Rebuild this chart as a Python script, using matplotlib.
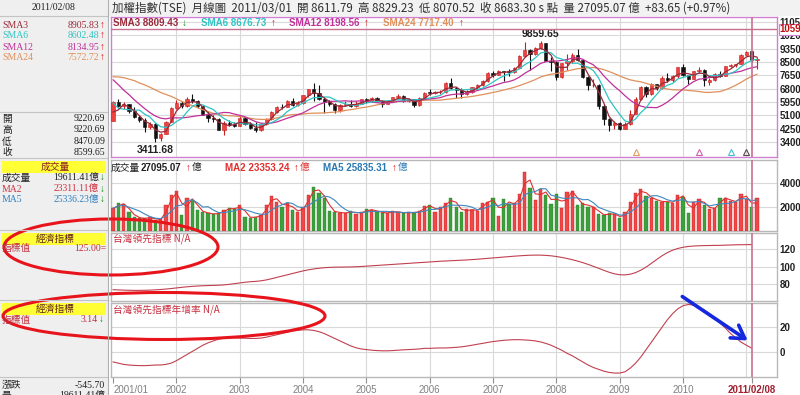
import numpy as np
import pandas as pd
import matplotlib
matplotlib.use('Agg')
import matplotlib.pyplot as plt
from matplotlib.patches import Ellipse, Rectangle
from matplotlib.transforms import blended_transform_factory

# ---- data: TAIEX monthly bars 2001/01 .. 2011/03 ----
open_ = [
    4740, 5936, 5674, 5797, 5382, 5020, 4800, 4350, 4550, 3636, 3903, 4700,
    5551, 5871, 5700, 6167, 6017, 5675, 5153, 4941, 4875, 4191, 4580, 4533,
    4452, 4945, 4550, 4321, 4148, 4556, 4872, 5318, 5650, 5611, 6045, 5771,
    5890, 6375, 6750, 6522, 6117, 5977, 5839, 5420, 5765, 5845, 5705, 5844,
    6139, 5994, 6207, 6006, 5818, 6011, 6241, 6312, 6033, 6119, 5764, 6203,
    6548, 6532, 6561, 6613, 7171, 6847, 6704, 6455, 6611, 6883, 7021, 7311,
    7823, 7699, 7901, 7884, 7875, 8145, 8883, 9287, 8982, 9411, 9711, 8586,
    8506, 7521, 8412, 8572, 8919, 8619, 7524, 7024, 7046, 5719, 4870, 4460,
    4591, 4248, 4557, 5210, 6153, 6890, 6432, 7077, 6826, 7509, 7340, 7582,
    8188, 7640, 7436, 7920, 8004, 7250, 7329, 7760, 7616, 8237, 8287, 8372,
    8972, 9220.69, 8611.79]
high = [
    6000, 6150, 5950, 5850, 5600, 5150, 4950, 4700, 4620, 3950, 4750, 5600,
    6050, 6000, 6300, 6484, 6100, 5700, 5400, 5100, 4950, 4750, 4800, 4700,
    5141, 5000, 4650, 4700, 4600, 4950, 5400, 5700, 5800, 6100, 6182, 6000,
    6400, 6800, 7135, 7034, 6250, 6050, 5900, 5800, 6000, 6050, 6000, 6150,
    6200, 6250, 6250, 6050, 6100, 6300, 6450, 6400, 6200, 6150, 6250, 6600,
    6800, 6650, 6700, 7250, 7474, 6900, 6850, 6700, 6900, 7100, 7350, 7850,
    7950, 8000, 7950, 8050, 8200, 8950, 9807, 9300, 9450, 9859.65, 9700, 8800,
    8550, 8450, 9000, 9050, 9309, 8700, 7600, 7400, 7100, 5800, 4950, 4750,
    4700, 4700, 5450, 6250, 6950, 7000, 7150, 7100, 7600, 7800, 7700, 8200,
    8395, 7700, 7950, 8190, 8050, 7500, 7800, 7900, 8250, 8400, 8400, 9000,
    9170, 9220.69, 8829.23]
low = [
    4720, 5600, 5500, 5250, 4900, 4700, 4050, 4200, 3411.68, 3450, 3880, 4680,
    5500, 5550, 5650, 5900, 5550, 5100, 4700, 4650, 4150, 3850, 4400, 4350,
    4400, 4500, 4200, 4044, 4100, 4500, 4800, 5250, 5500, 5600, 5700, 5700,
    5850, 6300, 6020, 6100, 5250, 5700, 5255, 5300, 5700, 5650, 5600, 5800,
    5900, 5950, 5950, 5600, 5800, 6000, 6200, 5950, 5950, 5620, 5700, 6180,
    6400, 6450, 6450, 6550, 6750, 6232, 6200, 6400, 6550, 6800, 6950, 7250,
    7550, 7650, 7300, 7600, 7800, 8100, 8800, 7987, 8950, 9300, 8550, 7900,
    7384, 7500, 8000, 8450, 8550, 7500, 6700, 6900, 5500, 4500, 4110, 4200,
    4164, 4200, 4500, 5200, 6100, 6300, 6400, 6700, 6800, 7200, 7200, 7500,
    7600, 7080, 7400, 7800, 6950, 7050, 7300, 7550, 7600, 8150, 8150, 8350,
    8950, 8470.09, 8070.52]
close = [
    5936, 5674, 5797, 5382, 5020, 4800, 4350, 4550, 3636, 3903, 4700, 5551,
    5871, 5700, 6167, 6017, 5675, 5153, 4941, 4875, 4191, 4580, 4533, 4452,
    4945, 4550, 4321, 4148, 4556, 4872, 5318, 5650, 5611, 6045, 5771, 5890,
    6375, 6750, 6522, 6117, 5977, 5839, 5420, 5765, 5845, 5705, 5844, 6139,
    5994, 6207, 6006, 5818, 6011, 6241, 6312, 6033, 6119, 5764, 6203, 6548,
    6532, 6561, 6613, 7171, 6847, 6704, 6455, 6611, 6883, 7021, 7311, 7823,
    7699, 7901, 7884, 7875, 8145, 8883, 9287, 8982, 9411, 9711, 8586, 8506,
    7521, 8412, 8572, 8919, 8619, 7524, 7024, 7046, 5719, 4870, 4460, 4591,
    4248, 4557, 5210, 6153, 6890, 6432, 7077, 6826, 7509, 7340, 7582, 8188,
    7640, 7436, 7920, 8004, 7374, 7329, 7760, 7616, 8237, 8287, 8372, 8972,
    9145, 8599.65, 8683.30]
# closes 1999/02 .. 2000/12, only used as look-back for the moving averages
pre_close = [5966, 6881, 7581, 7316, 8467, 7326, 8157, 7599, 7854, 7720, 8448,
             9744, 9436, 9854, 8861, 8939, 8265, 7727, 7616, 6185, 5544, 5256, 4739]

# monthly turnover, units of 10 億
volume = [
    1885, 2300, 2220, 1550, 1190, 1050, 1050, 1150, 900, 1000, 2160, 3000,
    3330, 1330, 2770, 2580, 1750, 1550, 1470, 1380, 1520, 1750, 1940, 1800,
    2160, 1190, 1100, 1190, 1330, 2160, 2940, 2440, 2020, 2300, 1750, 1600,
    2020, 3000, 3690, 3140, 2720, 1650, 1600, 1500, 1500, 1650, 1450, 1550,
    1800, 1750, 1600, 1500, 1500, 1650, 1550, 1500, 1550, 1500, 1700, 2050,
    2160, 1607, 2020, 2300, 2770, 2020, 1600, 1800, 1750, 1690, 2360, 2440,
    2720, 1250, 2630, 2220, 2300, 3050, 4890, 3610, 2580, 3500, 3000, 2250,
    3050, 1940, 3270, 3360, 2160, 2300, 2020, 1970, 1380, 1330, 1470, 1380,
    1050, 1550, 2380, 3140, 3470, 2910, 2720, 2500, 2440, 2440, 2360, 3000,
    2860, 1470, 2380, 2630, 2160, 1800, 1940, 2770, 2720, 2460, 2450, 3096,
    2701, 1961.14, 2709.51]

# Taiwan leading indicator and its YoY growth (2001/01 .. 2011/02)
lead_index = [
    73.5, 73.2, 73.0, 72.8, 72.7, 72.7, 72.8, 73.0, 73.3, 73.7, 74.2, 74.8,
    75.5, 76.2, 76.8, 77.3, 77.7, 78.0, 78.2, 78.4, 78.6, 79.0, 79.6, 80.4,
    81.2, 82.0, 82.6, 83.0, 83.6, 84.6, 86.0, 87.5, 89.0, 90.5, 92.0, 93.5,
    95.0, 96.2, 97.2, 98.0, 98.6, 99.0, 99.2, 99.3, 99.4, 99.5, 99.7, 100.0,
    100.4, 100.8, 101.2, 101.6, 102.0, 102.4, 102.8, 103.2, 103.6, 104.0, 104.4, 104.8,
    105.2, 105.6, 106.0, 106.3, 106.6, 106.9, 107.2, 107.5, 107.9, 108.3, 108.8, 109.3,
    109.8, 110.3, 110.8, 111.3, 111.8, 112.2, 112.6, 112.9, 113.0, 113.0, 112.7, 112.2,
    111.4, 110.4, 109.2, 107.8, 106.2, 104.4, 102.4, 100.2, 98.0, 95.6, 93.4, 91.6,
    90.6, 90.4, 91.2, 93.0, 95.8, 99.4, 103.6, 108.0, 112.2, 115.8, 118.6, 120.6,
    122.0, 122.9, 123.4, 123.7, 123.9, 124.0, 124.1, 124.2, 124.4, 124.6, 124.8, 124.9,
    125.0, 125.0]
lead_yoy = [
    -8, -9, -10, -10.5, -10.8, -11, -11, -10.8, -10.5, -10.5, -10, -9,
    -7, -4.5, -2, 0.5, 3, 5.5, 7.5, 9, 10.5, 11.2, 11.5, 11.5,
    11.3, 11.2, 11, 11, 11.3, 12, 13, 14, 15, 16, 17, 17.5,
    18, 18, 17.5, 16.5, 15, 13, 11, 9, 7, 5, 3.5, 2.5,
    2, 1.5, 1.2, 1, 1, 1.2, 1.5, 1.8, 2, 2.2, 2.5, 3,
    3, 3.2, 3.3, 3.3, 3.5, 3.8, 4.2, 4.8, 5.5, 6.3, 7, 7.8,
    8.5, 9, 9.5, 9.8, 10, 10, 9.8, 9.5, 9, 8.2, 7, 5.5,
    3.5, 1.5, -1, -3, -5.5, -8, -10.5, -12.5, -14, -15.5, -16.5, -17,
    -17, -16, -13, -9, -4, 2, 8, 14, 20, 26, 31, 35,
    37.5, 38.5, 38, 36.5, 34, 31, 27.5, 23.5, 19.5, 15, 11.5, 8,
    5.5, 3.14]

price_ticks = [3400, 4250, 5100, 5950, 6800, 7650, 8500, 9350, 10200, 11050]
cross_price = 10590
signal_idx = [99, 111, 117, 120]
signal_col = ['#e0a060', '#d060b0', '#40c0d0', '#604848']

dates = pd.period_range('2001-01', periods=len(close), freq='M')
months = np.arange(len(close))
cursor = int(np.where(dates == pd.Period('2011-02', freq='M'))[0][0])
year_idx = [i for i, d in enumerate(dates) if d.month == 1 and i > 0]

CJK = ['Noto Sans CJK TC', 'DejaVu Sans']
SERIF = ['Liberation Serif', 'Noto Sans CJK TC', 'DejaVu Sans']
BOLD = ['Liberation Sans', 'DejaVu Sans', 'Noto Sans CJK TC']
plt.rcParams['font.family'] = ['DejaVu Sans', 'Noto Sans CJK TC']

RED = '#f04040'
RED_EDGE = '#c81e1e'
GREEN = '#3da03d'
UPARR = '#e01010'
DNARR = '#109010'
GRID = '#d9d9d9'
CURSOR = '#c87090'
C3, C6, C12, C24 = '#9a2a3a', '#2ec4c4', '#c0309a', '#e0905a'

W, H = 800, 395
fig = plt.figure(figsize=(8, 3.95), dpi=100, facecolor='white')


def px_axes(x0, y0, x1, y1):
    return fig.add_axes([x0 / W, 1 - y1 / H, (x1 - x0) / W, (y1 - y0) / H])


def style_panel(ax, edge, ticks, ylim):
    ax.set_xlim(-0.4, 125.8)
    ax.set_ylim(*ylim)
    for s in ax.spines.values():
        s.set_color(edge)
        s.set_linewidth(1.0)
    ax.yaxis.tick_right()
    ax.set_yticks(ticks, labels=[str(t) for t in ticks], fontsize=7,
                  fontweight='bold', family=BOLD, color='#222222')
    ax.tick_params(axis='y', length=0, pad=2)
    ax.set_xticks([])
    ax.grid(axis='y', color=GRID, lw=0.8)
    ax.set_axisbelow(True)
    for yi in year_idx:
        ax.axvline(yi, color=GRID, lw=0.8, zorder=0)
    ax.axvline(cursor, color=CURSOR, lw=1.2, zorder=6)


# ---- price panel ----
o, h, l, c = map(np.array, (open_, high, low, close))
up = c >= o
ax1 = px_axes(111, 17, 777, 157)
style_panel(ax1, '#d080d0', price_ticks, (2444, 11369))
ax1.vlines(months, l, h, colors=np.where(up, RED_EDGE, '#111111'), lw=0.8, zorder=2)
ax1.bar(months, np.maximum(np.abs(c - o), 30), bottom=np.minimum(o, c), width=0.62,
        color=np.where(up, RED, '#111111'), edgecolor=np.where(up, RED_EDGE, '#111111'),
        lw=0.4, zorder=3)
allc = pd.Series(pre_close + close)
n0 = len(pre_close)
for n, col in ((24, C24), (12, C12), (6, C6), (3, C3)):
    ax1.plot(months, allc.rolling(n).mean().to_numpy()[n0:], color=col, lw=0.9, zorder=4)
ax1.axhline(cross_price, color=CURSOR, lw=1.0, zorder=6)
tr = blended_transform_factory(ax1.transAxes, ax1.transData)
ax1.text(1.004, cross_price, str(cross_price), transform=tr, fontsize=7, fontweight='bold',
         family=BOLD, color='#c01010', va='center', ha='left',
         bbox=dict(boxstyle='square,pad=0.05', fc='white', ec='#d080d0', lw=0.8))
trx = blended_transform_factory(ax1.transData, ax1.transAxes)
for i, col in zip(signal_idx, signal_col):
    ax1.plot(i, 0.035, marker='^', ms=4, mfc='none', mec=col, mew=0.8, transform=trx)
i_lo, i_hi = int(np.argmin(l)), int(np.argmax(h))
ax1.annotate(f'{l[i_lo]:.2f}', xy=(i_lo, l[i_lo]), xytext=(0, -2), textcoords='offset points',
             ha='center', va='top', fontsize=7.5, fontweight='bold', family=BOLD, color='#222222')
ax1.annotate(f'{h[i_hi]:.2f}', xy=(i_hi, h[i_hi]), xytext=(0, 1), textcoords='offset points',
             ha='center', va='bottom', fontsize=7.5, fontweight='bold', family=BOLD, color='#222222')

# ---- volume panel ----
ax2 = px_axes(111, 160, 777, 231)
style_panel(ax2, '#b8b8b8', [2000, 4000], (0, 5917))
v = pd.Series(volume)
ax2.bar(months, volume, width=0.62, color=np.where(up, '#f04848', GREEN),
        edgecolor=np.where(up, RED_EDGE, '#2c802c'), lw=0.3, zorder=3)
ax2.plot(months, v.rolling(2, min_periods=1).mean(), color='#e03030', lw=0.8, zorder=4)
ax2.plot(months, v.rolling(5, min_periods=1).mean(), color='#3c88c0', lw=0.8, zorder=4)

# ---- leading indicator ----
ax3 = px_axes(111, 233, 777, 300.7)
style_panel(ax3, '#b8b8b8', [80, 100, 120], (60.9, 138.3))
ax3.plot(months[:len(lead_index)], lead_index, color='#c04050', lw=0.8, zorder=4)

# ---- leading indicator yoy ----
ax4 = px_axes(111, 303, 777, 377)
style_panel(ax4, '#b8b8b8', [0, 20], (-20.2, 39.7))
ax4.plot(months[:len(lead_yoy)], lead_yoy, color='#c04050', lw=0.8, zorder=4)
xt = [0] + [i for i in year_idx if i < cursor - 3] + [cursor]
xl = ['2001/01'] + [str(dates[i].year) for i in xt[1:-1]] + ['2011/02/08']
ax4.set_xticks(xt, labels=xl, fontsize=7, family=BOLD, color='#808080')
ax4.tick_params(axis='x', length=4, color='#909090', pad=2)
ax4.get_xticklabels()[0].set_ha('left')
ax4.get_xticklabels()[-1].set_color('#a02030')
ax4.get_xticklabels()[-1].set_fontweight('bold')

# ---- overlay: side panel, headers, annotations ----
axo = fig.add_axes([0, 0, 1, 1])
axo.set_xlim(0, W)
axo.set_ylim(H, 0)
axo.axis('off')
axo.set_zorder(10)
axo.add_patch(Rectangle((0, 0), 108, H, fc='#efefef', ec='none', zorder=0))
axo.add_patch(Rectangle((108, 0), W - 108, 16, fc='#f2f2f2', ec='none', zorder=0))
for yy in (16, 112, 158, 230, 300, 377):
    axo.plot([0, 108], [yy, yy], color='#c4c4c4', lw=0.8)
axo.plot([108, 108], [0, H], color='#b0b0b0', lw=0.8)


def t(x, y, s, color='#202020', ha='left', fam=SERIF, size=7, weight='normal'):
    axo.text(x, y, s, color=color, ha=ha, va='center', family=fam, fontsize=size,
             fontweight=weight)


t(54, 8, '2011/02/08', ha='center')
for y, name, val, col in ((25, 'SMA3', '8905.83', C3), (36, 'SMA6', '8602.48', C6),
                          (47.5, 'SMA12', '8134.95', C12), (58, 'SMA24', '7572.72', C24)):
    t(2, y, name, col)
    t(99, y, val, col, ha='right')
    t(100, y, '↑', UPARR, size=7, weight='bold')
for y, name, val in ((118.5, '開', '9220.69'), (129.5, '高', '9220.69'),
                     (141.5, '低', '8470.09'), (152.5, '收', '8599.65')):
    t(2, y, name, fam=CJK)
    t(105, y, val, ha='right')

for y0 in (161, 233, 303):
    axo.add_patch(Rectangle((2, y0), 104, 11.5, fc='#ffff33', ec='none'))
t(55, 167, '成交量', '#902020', ha='center', fam=CJK)
for y, name, val, col in ((178, '成交量', '19611.41億', '#202020'),
                          (189, 'MA2', '23311.11億', '#d03040'),
                          (200, 'MA5', '25336.23億', '#3080c0')):
    t(2, y, name, col, fam=SERIF)
    t(99, y, val, col, ha='right')
    t(100, y, '↓', DNARR, weight='bold')
t(55, 238.5, '經濟指標', '#602020', ha='center', fam=CJK)
t(2, 248.5, '指標值', '#c03040', fam=CJK)
t(106, 248.5, '125.00=', '#c03040', ha='right')
t(55, 308.5, '經濟指標', '#602020', ha='center', fam=CJK)
t(2, 320, '指標值', '#c03040', fam=CJK)
t(98, 320, '3.14', '#c03040', ha='right')
t(99, 320, '↓', DNARR, weight='bold')
t(2, 385, '漲跌', fam=CJK)
t(105, 385, '-545.70', ha='right')
t(2, 396, '量', fam=CJK)
t(105, 396, '19611.41億', ha='right')

# top header
t(112, 8, '加權指數(TSE)  月線圖  2011/03/01  開 8611.79  高 8829.23  低 8070.52  '
          '收 8683.30 s 點  量 27095.07 億  +83.65 (+0.97%)', '#303030', fam=CJK, size=8.3)

# price panel legend row
for x, s, col, xa, arr, acol in ((113, 'SMA3 8809.43', C3, 182, '↓', DNARR),
                                 (201, 'SMA6 8676.73', C6, 271, '↑', UPARR),
                                 (289, 'SMA12 8198.56', C12, 364, '↑', UPARR),
                                 (383, 'SMA24 7717.40', C24, 459, '↑', UPARR)):
    t(x, 23, s, col, fam=BOLD, weight='bold')
    t(xa, 23, arr, acol, fam=BOLD, weight='bold')

# volume legend row
t(111, 168, '成交量', '#202020', fam=CJK)
t(141, 168, '27095.07', '#202020', fam=BOLD, weight='bold')
t(186, 168, '↑', UPARR, fam=BOLD, weight='bold')
t(192, 168, '億', '#202020', fam=CJK)
t(225, 168, 'MA2 23353.24', '#e03030', fam=BOLD, weight='bold')
t(294, 168, '↑', UPARR, fam=BOLD, weight='bold')
t(300, 168, '億', '#e03030', fam=CJK)
t(323, 168, 'MA5 25835.31', '#2a78b0', fam=BOLD, weight='bold')
t(392, 168, '↑', UPARR, fam=BOLD, weight='bold')
t(398, 168, '億', '#2a78b0', fam=CJK)

t(113, 239, '台灣領先指標 N/A', '#c83040', fam=CJK)
t(113, 310, '台灣領先指標年增率 N/A', '#c83040', fam=CJK)

# hand-drawn highlights
axo.add_patch(Ellipse((111, 247), 214, 56, fill=False, ec='#e8141c', lw=2.2))
axo.add_patch(Ellipse((164, 316), 322, 47, fill=False, ec='#e8141c', lw=2.2))
axo.annotate('', xy=(750, 342), xytext=(680, 295),
             arrowprops=dict(arrowstyle='->,head_length=0.9,head_width=0.55',
                             color='#1428e0', lw=2.6))

fig.savefig('out.png', dpi=100, facecolor=fig.get_facecolor())
